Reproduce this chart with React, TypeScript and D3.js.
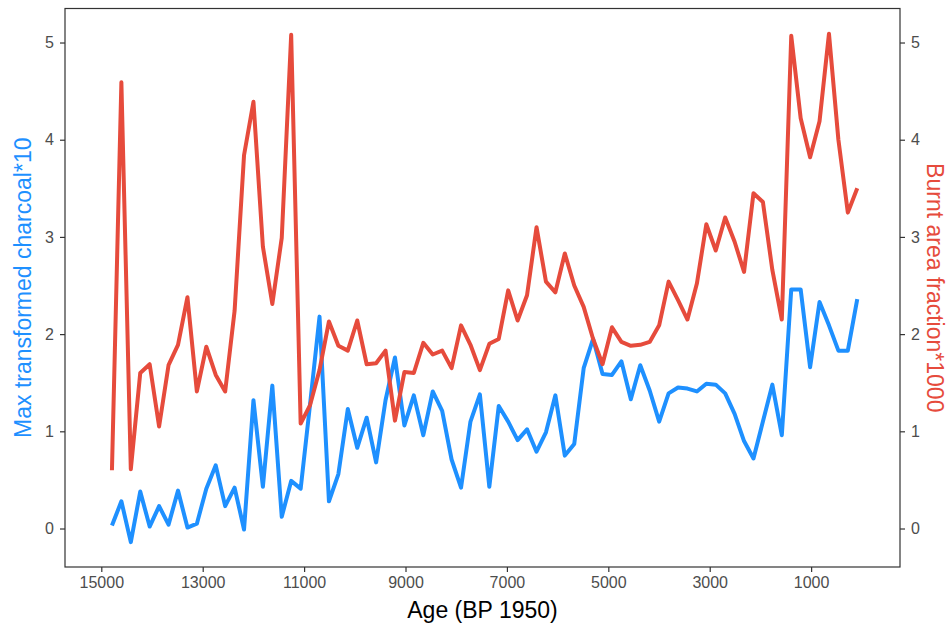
import React, { useEffect, useRef } from 'react';
import * as d3 from 'd3';

// sample ages (years BP 1950), oldest first
const ages = [
  14790, 14604, 14418, 14232, 14046, 13860, 13674, 13487, 13301, 13115,
  12929, 12743, 12557, 12371, 12185, 11999, 11813, 11627, 11441, 11255,
  11068, 10882, 10696, 10510, 10324, 10138, 9952, 9766, 9580, 9394,
  9208, 9022, 8836, 8649, 8463, 8277, 8091, 7905, 7719, 7533,
  7347, 7161, 6975, 6789, 6603, 6416, 6230, 6044, 5858, 5672,
  5486, 5300, 5114, 4928, 4742, 4556, 4370, 4184, 3997, 3811,
  3625, 3439, 3253, 3067, 2881, 2695, 2509, 2323, 2137, 1951,
  1765, 1578, 1392, 1206, 1020, 834, 648, 462, 276, 90,
];

// Max transformed charcoal * 10
const charcoal = [
  0.03, 0.28, -0.14, 0.38, 0.02, 0.23, 0.04, 0.39, 0.01, 0.05,
  0.41, 0.65, 0.23, 0.42, -0.01, 1.32, 0.43, 1.47, 0.12, 0.49,
  0.41, 1.28, 2.18, 0.28, 0.56, 1.23, 0.83, 1.14, 0.68, 1.32,
  1.76, 1.06, 1.37, 0.96, 1.41, 1.21, 0.71, 0.42, 1.10, 1.38,
  0.43, 1.26, 1.10, 0.91, 1.02, 0.79, 0.99, 1.37, 0.75, 0.87,
  1.65, 1.95, 1.59, 1.58, 1.72, 1.33, 1.68, 1.42, 1.10, 1.39,
  1.45, 1.44, 1.41, 1.49, 1.48, 1.39, 1.18, 0.90, 0.72, 1.10,
  1.48, 0.96, 2.46, 2.46, 1.66, 2.33, 2.09, 1.83, 1.83, 2.36,
];

// Burnt area fraction * 1000
const burnt = [
  0.60, 4.59, 0.61, 1.60, 1.69, 1.05, 1.68, 1.89, 2.38, 1.41,
  1.87, 1.58, 1.41, 2.24, 3.84, 4.39, 2.90, 2.31, 2.99, 5.08,
  1.08, 1.27, 1.63, 2.13, 1.88, 1.83, 2.14, 1.69, 1.70, 1.83,
  1.11, 1.61, 1.60, 1.91, 1.79, 1.83, 1.65, 2.09, 1.89, 1.63,
  1.90, 1.95, 2.45, 2.14, 2.40, 3.10, 2.54, 2.43, 2.83, 2.50,
  2.28, 1.95, 1.69, 2.07, 1.92, 1.88, 1.89, 1.92, 2.09, 2.54,
  2.35, 2.15, 2.52, 3.13, 2.86, 3.20, 2.95, 2.64, 3.45, 3.36,
  2.66, 2.15, 5.07, 4.22, 3.82, 4.19, 5.09, 4.00, 3.25, 3.50,
];

const xTicks = [15000, 13000, 11000, 9000, 7000, 5000, 3000, 1000];
const yTicks = [0, 1, 2, 3, 4, 5];

const BLUE = '#1E90FF';
const RED = '#E64B3C';
const FONT = '"Liberation Sans", Arial, Helvetica, sans-serif';

const App = () => {
  const ref = useRef<SVGSVGElement>(null);

  useEffect(() => {
    const svg = d3.select(ref.current);
    svg.selectAll('*').remove();

    const W = 949;
    const H = 628;
    const panel = { left: 65, right: 900, top: 8.5, bottom: 567 };

    const x = d3.scaleLinear().domain([15716, -753]).range([panel.left, panel.right]);
    const y = d3.scaleLinear().domain([-0.396, 5.35]).range([panel.bottom, panel.top]);

    svg.attr('width', W).attr('height', H);
    svg.append('rect').attr('width', W).attr('height', H).attr('fill', '#fff');

    const idx = d3.range(ages.length);

    const line = (vals: number[]) =>
      d3.line<number>()
        .x(i => x(ages[i]))
        .y(i => y(vals[i]))(idx);

    svg.append('path')
      .attr('d', line(charcoal))
      .attr('fill', 'none')
      .attr('stroke', BLUE)
      .attr('stroke-width', 4)
      .attr('stroke-linejoin', 'round');

    svg.append('path')
      .attr('d', line(burnt))
      .attr('fill', 'none')
      .attr('stroke', RED)
      .attr('stroke-width', 4)
      .attr('stroke-linejoin', 'round');

    // panel border
    svg.append('rect')
      .attr('x', panel.left)
      .attr('y', panel.top)
      .attr('width', panel.right - panel.left)
      .attr('height', panel.bottom - panel.top)
      .attr('fill', 'none')
      .attr('stroke', '#333')
      .attr('stroke-width', 1.2);

    const styleAxis = (g: any) => {
      g.select('.domain').remove();
      g.selectAll('line').attr('stroke', '#333').attr('stroke-width', 1.2);
      g.selectAll('text')
        .attr('fill', '#4D4D4D')
        .style('font-family', FONT)
        .style('font-size', '16px');
    };

    svg.append('g')
      .attr('transform', `translate(0,${panel.bottom})`)
      .call(d3.axisBottom(x).tickValues(xTicks).tickFormat(d3.format('d')).tickSize(5).tickPadding(5))
      .call(styleAxis);

    svg.append('g')
      .attr('transform', `translate(${panel.left},0)`)
      .call(d3.axisLeft(y).tickValues(yTicks).tickFormat(d3.format('d')).tickSize(5).tickPadding(6))
      .call(styleAxis);

    svg.append('g')
      .attr('transform', `translate(${panel.right},0)`)
      .call(d3.axisRight(y).tickValues(yTicks).tickFormat(d3.format('d')).tickSize(5).tickPadding(6))
      .call(styleAxis);

    svg.append('text')
      .attr('x', (panel.left + panel.right) / 2)
      .attr('y', 618)
      .attr('text-anchor', 'middle')
      .attr('fill', '#000')
      .style('font-family', FONT)
      .style('font-size', '23px')
      .text('Age (BP 1950)');

    svg.append('text')
      .attr('transform', `translate(31,${(panel.top + panel.bottom) / 2}) rotate(-90)`)
      .attr('text-anchor', 'middle')
      .attr('fill', BLUE)
      .style('font-family', FONT)
      .style('font-size', '23px')
      .text('Max transformed charcoal*10');

    svg.append('text')
      .attr('transform', `translate(927,${(panel.top + panel.bottom) / 2}) rotate(90)`)
      .attr('text-anchor', 'middle')
      .attr('fill', RED)
      .style('font-family', FONT)
      .style('font-size', '23px')
      .text('Burnt area fraction*1000');
  }, []);

  return (
    <div style={{ position: 'absolute', left: 0, top: 0 }}>
      <svg ref={ref}></svg>
    </div>
  );
};

export default App;
